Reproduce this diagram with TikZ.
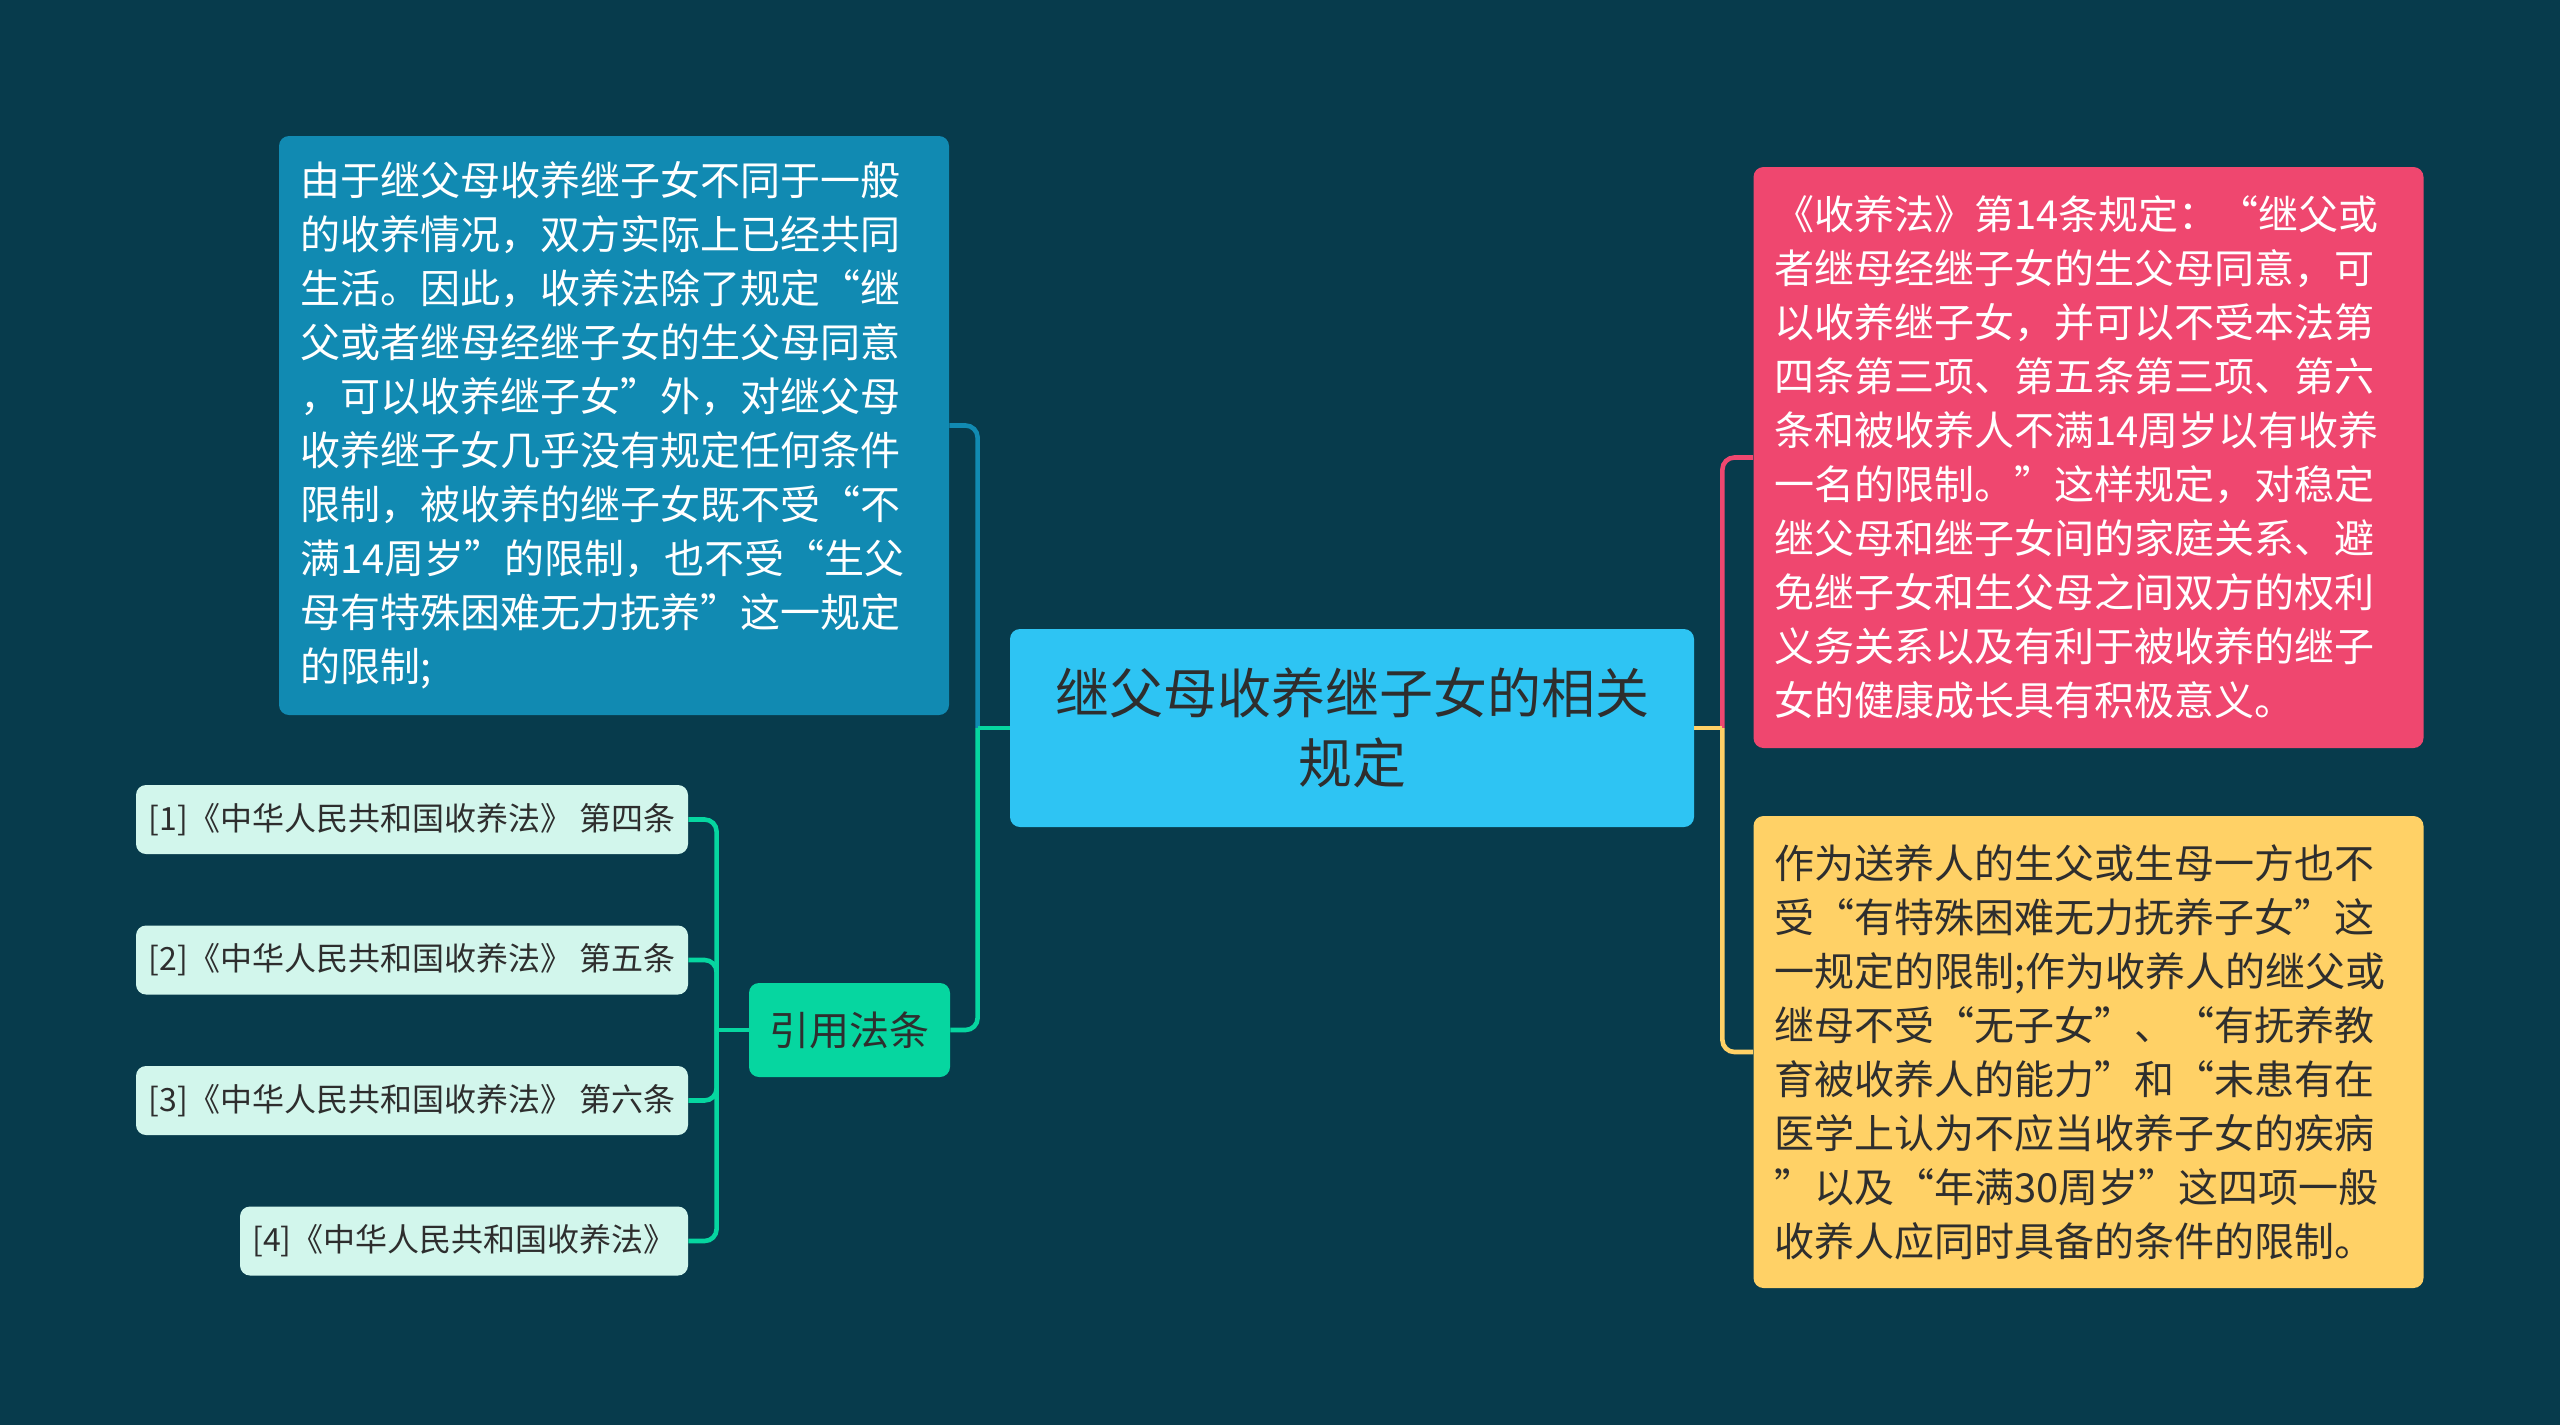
\documentclass[tikz,border=0pt]{standalone}
\usepackage{fontspec}
\setmainfont{Noto Sans CJK SC}
\definecolor{bg}{HTML}{073B4C}
\definecolor{cblue}{HTML}{118AB2}
\definecolor{ccenter}{HTML}{2EC4F3}
\definecolor{cred}{HTML}{EF476F}
\definecolor{cyellow}{HTML}{FFD166}
\definecolor{cgreen}{HTML}{06D6A0}
\definecolor{cleaf}{HTML}{D2F6EC}
\definecolor{ctext}{HTML}{2E2E2E}
\begin{document}
\begin{tikzpicture}[x=0.5pt,y=-0.5pt,
  boxbase/.style={rounded corners=5pt, inner sep=0pt, anchor=center},
  bigbox/.style={boxbase, minimum width=335pt, text width=314pt, align=left,
    font=\fontsize{20pt}{27pt}\selectfont},
  leafbox/.style={boxbase, fill=cleaf, text=ctext, minimum height=34.5pt, align=center,
    font=\fontsize{16pt}{20pt}\selectfont},
  conn/.style={line width=2.3pt},
  rconn/.style={line width=2.3pt, rounded corners=6pt}
]
\useasboundingbox (0,0) rectangle (2560,1425);
\fill[bg] (0,0) rectangle (2560,1425);

% nodes
\node[boxbase, fill=ccenter, text=ctext, minimum width=342pt, minimum height=99pt,
  align=center, font=\fontsize{27pt}{35pt}\selectfont] (c) at (1352,728)
  {继父母收养继子女的相关\\规定};

\node[bigbox, fill=cblue, text=white, minimum height=289.5pt] (b) at (614,425.5)
  {由于继父母收养继子女不同于一般\\
的收养情况，双方实际上已经共同\\
生活。因此，收养法除了规定“继\\
父或者继母经继子女的生父母同意\\
，可以收养继子女”外，对继父母\\
收养继子女几乎没有规定任何条件\\
限制，被收养的继子女既不受“不\\
满14周岁”的限制，也不受“生父\\
母有特殊困难无力抚养”这一规定\\
的限制;};

\node[bigbox, fill=cred, text=white, minimum height=290.5pt] (r) at (2088.5,457.5)
  {《收养法》第14条规定：“继父或\\
者继母经继子女的生父母同意，可\\
以收养继子女，并可以不受本法第\\
四条第三项、第五条第三项、第六\\
条和被收养人不满14周岁以有收养\\
一名的限制。”这样规定，对稳定\\
继父母和继子女间的家庭关系、避\\
免继子女和生父母之间双方的权利\\
义务关系以及有利于被收养的继子\\
女的健康成长具有积极意义。};

\node[bigbox, fill=cyellow, text=ctext, minimum height=236pt] (y) at (2088.5,1052)
  {作为送养人的生父或生母一方也不\\
受“有特殊困难无力抚养子女”这\\
一规定的限制;作为收养人的继父或\\
继母不受“无子女”、“有抚养教\\
育被收养人的能力”和“未患有在\\
医学上认为不应当收养子女的疾病\\
”以及“年满30周岁”这四项一般\\
收养人应同时具备的条件的限制。};

\node[boxbase, fill=cgreen, text=ctext, minimum width=100.5pt, minimum height=47pt,
  font=\fontsize{20pt}{24pt}\selectfont] (g) at (849.5,1030) {引用法条};

\node[leafbox, minimum width=276pt] (l1) at (412,819.5) {[1]《中华人民共和国收养法》 第四条};
\node[leafbox, minimum width=276pt] (l2) at (412,960) {[2]《中华人民共和国收养法》 第五条};
\node[leafbox, minimum width=276pt] (l3) at (412,1100.5) {[3]《中华人民共和国收养法》 第六条};
\node[leafbox, minimum width=224pt] (l4) at (464,1241) {[4]《中华人民共和国收养法》};

% junction coordinates
\coordinate (jl) at ([xshift=-16pt]c.west);
\coordinate (jr) at ([xshift=14pt]c.east);
\coordinate (jg) at ([xshift=-16pt]g.west);

% left branches
\draw[conn, cblue] (c.west) -- (jl);
\draw[rconn, cblue] (jl) |- (b.east);
\draw[conn, cgreen] (c.west) -- (jl);
\draw[rconn, cgreen] (jl) |- (g.east);

% right branches
\draw[conn, cred] (c.east) -- (jr);
\draw[rconn, cred] (jr) |- (r.west);
\draw[conn, cyellow] (c.east) -- (jr);
\draw[rconn, cyellow] (jr) |- (y.west);

% citation leaves
\draw[conn, cgreen] (g.west) -- (jg);
\draw[rconn, cgreen] (jg) |- (l1.east);
\draw[rconn, cgreen] (jg) |- (l2.east);
\draw[rconn, cgreen] (jg) |- (l3.east);
\draw[rconn, cgreen] (jg) |- (l4.east);
\end{tikzpicture}
\end{document}
